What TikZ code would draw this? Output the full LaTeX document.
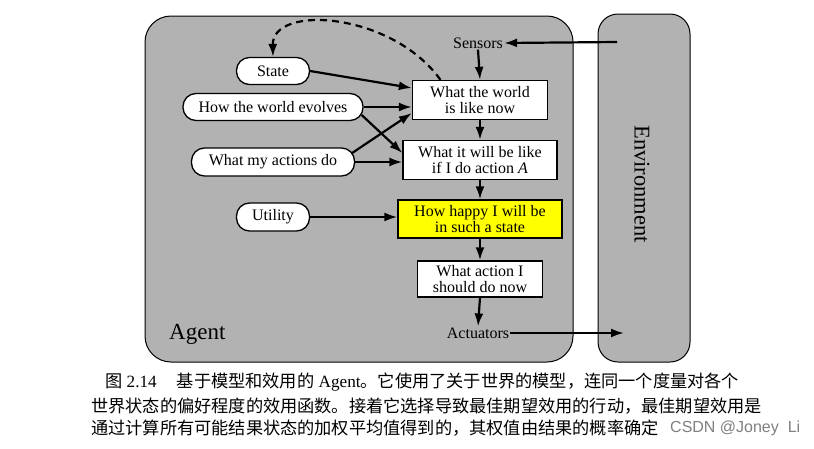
\documentclass[tikz,border=0pt]{standalone}
\usepackage{fontspec}
\setmainfont{Liberation Serif}
\newfontfamily\cjk{Noto Sans CJK SC}
\newfontfamily\wmfont{Liberation Sans}
\usetikzlibrary{arrows.meta}
\definecolor{panelgray}{RGB}{178,178,178}
\definecolor{happyyellow}{RGB}{255,255,0}
\begin{document}
\begin{tikzpicture}[x=1pt,y=-1pt,
  txt/.style={font=\fontsize{16}{16}\selectfont},
  pill/.style={draw, line width=1.3pt, fill=white, rounded corners=13pt, txt, inner sep=0pt},
  rbox/.style={draw, line width=1.3pt, fill=white, txt, align=center, inner sep=0pt},
  arr/.style={line width=2.2pt, -{Latex[length=13pt,width=9pt]}},
  dasharr/.style={line width=2.2pt, dash pattern=on 7pt off 5pt, -{Latex[length=13pt,width=9pt]}},
  panel/.style={draw, line width=1pt, fill=panelgray},
  captext/.style={anchor=west, inner sep=0pt, font=\fontsize{17.2}{20}\selectfont}
]
\useasboundingbox (0,0) rectangle (814,448);
\fill[white] (0,0) rectangle (814,448);

% panels
\draw[panel, rounded corners=26pt] (145,16) rectangle (573,362);
\draw[panel, rounded corners=20pt] (598,14) rectangle (690,362);
\node[rotate=-90, font=\fontsize{22.5}{24}\selectfont] (Env) at (642,184) {Environment};
\node[font=\fontsize{23}{24}\selectfont, anchor=west, inner sep=0pt] (Agent) at (169,334) {Agent};

% left ovals
\node[pill, minimum width=73pt, minimum height=27pt] (State) at (273,71) {State};
\node[pill, minimum width=180pt, minimum height=27pt] (Evolves) at (273,107) {How the world evolves};
\node[pill, minimum width=163pt, minimum height=28pt] (Actions) at (273,162) {What my actions do};
\node[pill, minimum width=73pt, minimum height=28pt] (Utility) at (273,217) {Utility};

% right boxes
\node[txt, inner sep=1pt] (Sensors) at (478,43) {Sensors};
\node[rbox, minimum width=135pt, minimum height=39pt] (WorldNow) at (480,100) {What the world\\is like now};
\node[rbox, minimum width=154pt, minimum height=39pt] (WillBe) at (480,160) {What it will be like\\if I do action \textit{A}};
\node[rbox, fill=happyyellow, minimum width=164pt, minimum height=38pt] (Happy) at (480,219) {How happy I will be\\in such a state};
\node[rbox, minimum width=125pt, minimum height=36pt] (Action) at (480,279) {What action I\\should do now};
\node[txt, inner sep=1pt] (Actuators) at (478,333) {Actuators};

\coordinate (EnvIn) at (617,42);
\coordinate (EnvOut) at (624,333);

% connectors
\draw[arr] (EnvIn) -- (Sensors.east);
\draw[arr] (Actuators.east) -- (EnvOut);
\draw[arr] (Sensors.south) -- (WorldNow.north);
\draw[arr] (WorldNow.south) -- (WillBe.north);
\draw[arr] (WillBe.south) -- (Happy.north);
\draw[arr] (Happy.south) -- (Action.north);
\draw[arr] (Action.south) -- (Actuators.north);

\draw[arr] (State.east) -- ([yshift=12pt]WorldNow.west);
\draw[arr] (Evolves.east) -- (Evolves.east -| WorldNow.west);
\draw[arr] ([xshift=-2pt,yshift=-8pt]Evolves.east) -- ([yshift=7pt]WillBe.west);
\draw[arr] ([xshift=-3pt,yshift=9pt]Actions.east) -- ([yshift=-13pt]WorldNow.west);
\draw[arr] (Actions.east) -- (Actions.east -| WillBe.west);
\draw[arr] (Utility.east) -- (Utility.east -| Happy.west);

\draw[dasharr] (WorldNow.153) .. controls (392,12) and (272,4) .. (State.north);

% caption
\node[captext] (Cap1) at (105,382) {{\cjk 图} 2.14\hspace{20pt}{\cjk 基于模型和效用的} Agent{\cjk 。它使用了关于世界的模型，连同一个度量对各个}};
\node[captext] (Cap2) at (91,406) {\cjk 世界状态的偏好程度的效用函数。接着它选择导致最佳期望效用的行动，最佳期望效用是};
\node[captext] (Cap3) at (91,428) {\cjk 通过计算所有可能结果状态的加权平均值得到的，其权值由结果的概率确定};
\node[anchor=west, inner sep=0pt, text=gray, font=\wmfont\fontsize{16}{18}\selectfont] (Mark) at (670,428) {CSDN @Joney\ \ Li};
\end{tikzpicture}
\end{document}
